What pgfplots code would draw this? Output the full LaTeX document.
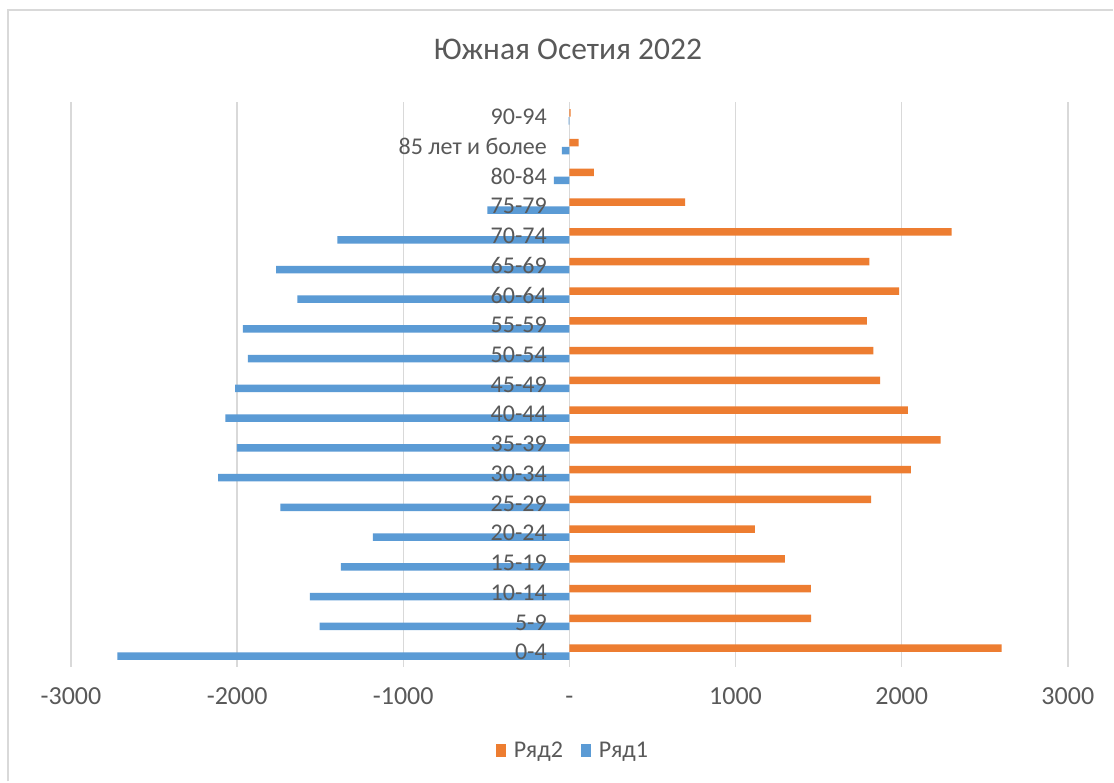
\documentclass[border=0pt]{standalone}
\usepackage{fontspec}
\setmainfont{Carlito}
\usepackage{pgfplots}
\pgfplotsset{compat=1.18}
\definecolor{cblue}{HTML}{5B9BD5}
\definecolor{corange}{HTML}{ED7D31}
\definecolor{ctext}{HTML}{595959}
\definecolor{cgrid}{HTML}{D9D9D9}
\pgfplotsset{
  common/.style={
    at={(71bp,115bp)}, anchor=south west,
    scale only axis, width=997bp, height=565bp,
    xmin=-3000, xmax=3000, ymin=-0.5, ymax=18.5,
    axis line style={draw=none},
    tick style={draw=none},
    major tick length=0pt,
  }
}
\begin{document}
\begin{tikzpicture}[x=1bp,y=1bp]
\fill[white] (0,0) rectangle (1114,782);
\draw[cgrid, line width=1.3bp] (8,0.5) -- (8,772) -- (1113.5,772);
\node[text=ctext, font=\fontsize{31.5bp}{36bp}\selectfont] at (568,733) {Южная Осетия 2022};
\begin{axis}[
  common,
  xbar, bar width=7.5bp,
  xmajorgrids, grid style={cgrid, line width=1.5bp},
  xtick={-3000,-2000,-1000,0,1000,2000,3000},
  xticklabels={-3000,-2000,-1000,-,1000,2000,3000},
  ytick=\empty,
  xticklabel style={anchor=base, inner sep=0pt, yshift=-38bp, text=ctext, font=\fontsize{26bp}{30bp}\selectfont},
  legend columns=2,
  legend style={at={(0.5035,-0.1475)}, anchor=center, draw=none, fill=none,
    text=ctext, font=\fontsize{24bp}{28bp}\selectfont,
    /tikz/every odd column/.append style={column sep=6bp},
    /tikz/every even column/.append style={column sep=16bp}},
  legend image code/.code={\fill[#1] (0bp,-6.5bp) rectangle (10bp,6.5bp);},
]
\addplot[fill=corange, draw=none, bar shift=4bp] coordinates {
(2602,0) (1455,1) (1453,2) (1297,3) (1117,4) (1816,5) (2056,6) (2235,7) (2038,8) (1870,9)
(1830,10) (1790,11) (1984,12) (1806,13) (2301,14) (696,15) (148,16) (56,17) (8,18)};
\addlegendentry{Ряд2}
\addplot[fill=cblue, draw=none, bar shift=-4bp] coordinates {
(-2721,0) (-1504,1) (-1562,2) (-1376,3) (-1183,4) (-1739,5) (-2114,6) (-2002,7) (-2070,8) (-2012,9)
(-1936,10) (-1966,11) (-1637,12) (-1765,13) (-1396,14) (-494,15) (-93,16) (-45,17) (-5,18)};
\addlegendentry{Ряд1}
\end{axis}
\begin{axis}[
  common,
  xtick=\empty,
  ytick={0,...,18},
  yticklabels={0-4,5-9,10-14,15-19,20-24,25-29,30-34,35-39,40-44,45-49,50-54,55-59,60-64,65-69,70-74,75-79,80-84,85 лет и более,90-94},
  yticklabel style={anchor=base east, inner sep=0pt, xshift=476bp, yshift=-7.8bp, text=ctext, font=\fontsize{24bp}{28bp}\selectfont},
]
\end{axis}
\end{tikzpicture}
\end{document}
